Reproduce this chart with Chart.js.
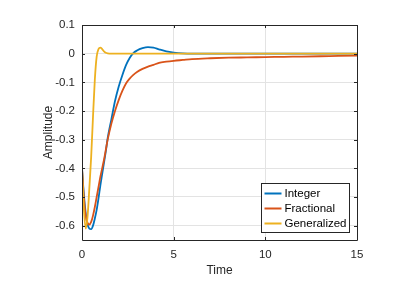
<!DOCTYPE html>
<html>
<head>
<meta charset="utf-8">
<script src="https://cdn.jsdelivr.net/npm/chart.js@4.4.0/dist/chart.umd.min.js"></script>
<style>
html,body{margin:0;padding:0;background:#fff;}
#wrap{position:relative;width:408px;height:282px;}
</style>
</head>
<body>
<div id="wrap"><canvas id="c" width="408" height="282"></canvas></div>
<script>
const seriesNames = ["Integer", "Fractional", "Generalized"];
const seriesColors = ["#0072BD", "#D95319", "#EDB120"];
const time = [0, 0.1, 0.2, 0.3, 0.4, 0.5, 0.6, 0.7, 0.8, 0.9, 1.0, 1.1, 1.2, 1.3, 1.4, 1.6, 1.8, 2.0, 2.2, 2.4, 2.6, 2.8, 3.0, 3.3, 3.6, 3.9, 4.2, 4.6, 5.0, 5.5, 6, 7, 8, 9, 10, 11, 12, 13, 14, 15];
const integerVals = [-0.40, -0.49, -0.555, -0.595, -0.61, -0.612, -0.60, -0.575, -0.545, -0.505, -0.46, -0.42, -0.38, -0.34, -0.295, -0.23, -0.165, -0.115, -0.075, -0.04, -0.015, 0.002, 0.011, 0.019, 0.023, 0.021, 0.015, 0.008, 0.004, 0.001, 0, 0, 0, 0, 0, 0, 0, 0, 0, 0];
const fractionalVals = [-0.40, -0.50, -0.565, -0.59, -0.596, -0.587, -0.565, -0.535, -0.50, -0.465, -0.43, -0.40, -0.37, -0.335, -0.30, -0.245, -0.20, -0.162, -0.13, -0.104, -0.087, -0.074, -0.064, -0.053, -0.045, -0.039, -0.032, -0.028, -0.025, -0.022, -0.019, -0.016, -0.014, -0.013, -0.012, -0.011, -0.010, -0.009, -0.008, -0.007];
const generalizedVals = [-0.40, -0.54, -0.61, -0.57, -0.47, -0.36, -0.22, -0.09, -0.01, 0.016, 0.021, 0.016, 0.008, 0.003, 0.001, 0, 0, 0, 0, 0, 0, 0, 0, 0, 0, 0, 0, 0, 0, 0, 0, 0, 0, 0, 0, 0, 0, 0, 0, 0];
const xTicks = [0, 5, 10, 15];
const yTicks = [-0.6, -0.5, -0.4, -0.3, -0.2, -0.1, 0, 0.1];
const xLabel = "Time";
const yLabel = "Amplitude";

const allVals = [integerVals, fractionalVals, generalizedVals];
const FONT = "'Liberation Sans', Arial, Helvetica, sans-serif";
const AXIS = "#262626";

const boxPlugin = {
  id: 'boxPlugin',
  afterDatasetsDraw(chart) {
    const ctx = chart.ctx, a = chart.chartArea;
    const xs = chart.scales.x, ys = chart.scales.y;
    ctx.save();
    ctx.strokeStyle = AXIS;
    ctx.lineWidth = 1;
    ctx.beginPath();
    ctx.rect(Math.round(a.left) + 0.5, Math.round(a.top) + 0.5, Math.round(a.right - a.left), Math.round(a.bottom - a.top));
    ctx.stroke();
    const tl = 3;
    ctx.beginPath();
    xTicks.forEach(v => {
      const px = Math.round(xs.getPixelForValue(v)) + 0.5;
      ctx.moveTo(px, a.bottom); ctx.lineTo(px, a.bottom - tl);
      ctx.moveTo(px, a.top); ctx.lineTo(px, a.top + tl);
    });
    yTicks.forEach(v => {
      const py = Math.round(ys.getPixelForValue(v)) + 0.5;
      ctx.moveTo(a.left, py); ctx.lineTo(a.left + tl, py);
      ctx.moveTo(a.right, py); ctx.lineTo(a.right - tl, py);
    });
    ctx.stroke();

    // legend inside plot (bottom-right)
    ctx.font = "11.5px " + FONT;
    const textW = Math.max(...seriesNames.map(n => ctx.measureText(n).width));
    const rowH = 15, lineLen = 17, pad = 3, gap = 3;
    const w = Math.round(pad + lineLen + gap + textW + pad);
    const h = rowH * seriesNames.length + 4;
    const bx = Math.round(a.right - 8 - w) + 0.5;
    const by = Math.round(a.bottom - 8 - h) + 0.5;
    ctx.fillStyle = "#fff";
    ctx.fillRect(bx, by, w, h);
    ctx.strokeStyle = AXIS;
    ctx.lineWidth = 1;
    ctx.strokeRect(bx, by, w, h);
    ctx.textBaseline = "middle";
    ctx.textAlign = "left";
    seriesNames.forEach((n, i) => {
      const cy = by + 2.5 + rowH * i + rowH / 2;
      ctx.strokeStyle = seriesColors[i];
      ctx.lineWidth = 2;
      ctx.beginPath();
      ctx.moveTo(bx + pad, cy); ctx.lineTo(bx + pad + lineLen, cy);
      ctx.stroke();
      ctx.fillStyle = "#000";
      ctx.fillText(n, bx + pad + lineLen + gap, cy + 0.5);
    });
    ctx.restore();
  }
};

const datasets = seriesNames.map((name, i) => ({
  label: name,
  data: time.map((t, k) => ({ x: t, y: allVals[i][k] })),
  borderColor: seriesColors[i],
  backgroundColor: seriesColors[i],
  borderWidth: 1.8,
  pointRadius: 0,
  cubicInterpolationMode: 'monotone',
  fill: false,
  order: 3 - i
}));

new Chart(document.getElementById('c'), {
  type: 'line',
  data: { datasets },
  plugins: [boxPlugin],
  options: {
    responsive: false,
    animation: false,
    events: [],
    layout: { padding: { left: 41, right: 51, top: 25, bottom: 4 } },
    plugins: { legend: { display: false }, tooltip: { enabled: false } },
    scales: {
      x: {
        type: 'linear', min: 0, max: 15,
        afterBuildTicks: s => { s.ticks = xTicks.map(v => ({ value: v })); },
        afterFit: s => { s.height = 38; },
        grid: { color: "#e3e3e3", drawTicks: false, lineWidth: 1 },
        border: { display: false },
        ticks: { color: AXIS, font: { family: FONT, size: 11.5 }, padding: 8, maxRotation: 0, callback: v => String(v) },
        title: { display: true, text: xLabel, color: AXIS, font: { family: FONT, size: 12 }, padding: { top: 2, bottom: 0 } }
      },
      y: {
        type: 'linear', min: -0.65, max: 0.1,
        afterBuildTicks: s => { s.ticks = yTicks.map(v => ({ value: v })); },
        afterFit: s => { s.width = 41; },
        grid: { color: "#e3e3e3", drawTicks: false, lineWidth: 1 },
        border: { display: false },
        ticks: { color: AXIS, font: { family: FONT, size: 11.5 }, padding: 7, callback: v => String(Math.round(v * 10) / 10) },
        title: { display: true, text: yLabel, color: AXIS, font: { family: FONT, size: 12 }, padding: { top: 0, bottom: 2 } }
      }
    }
  }
});
</script>
</body>
</html>
